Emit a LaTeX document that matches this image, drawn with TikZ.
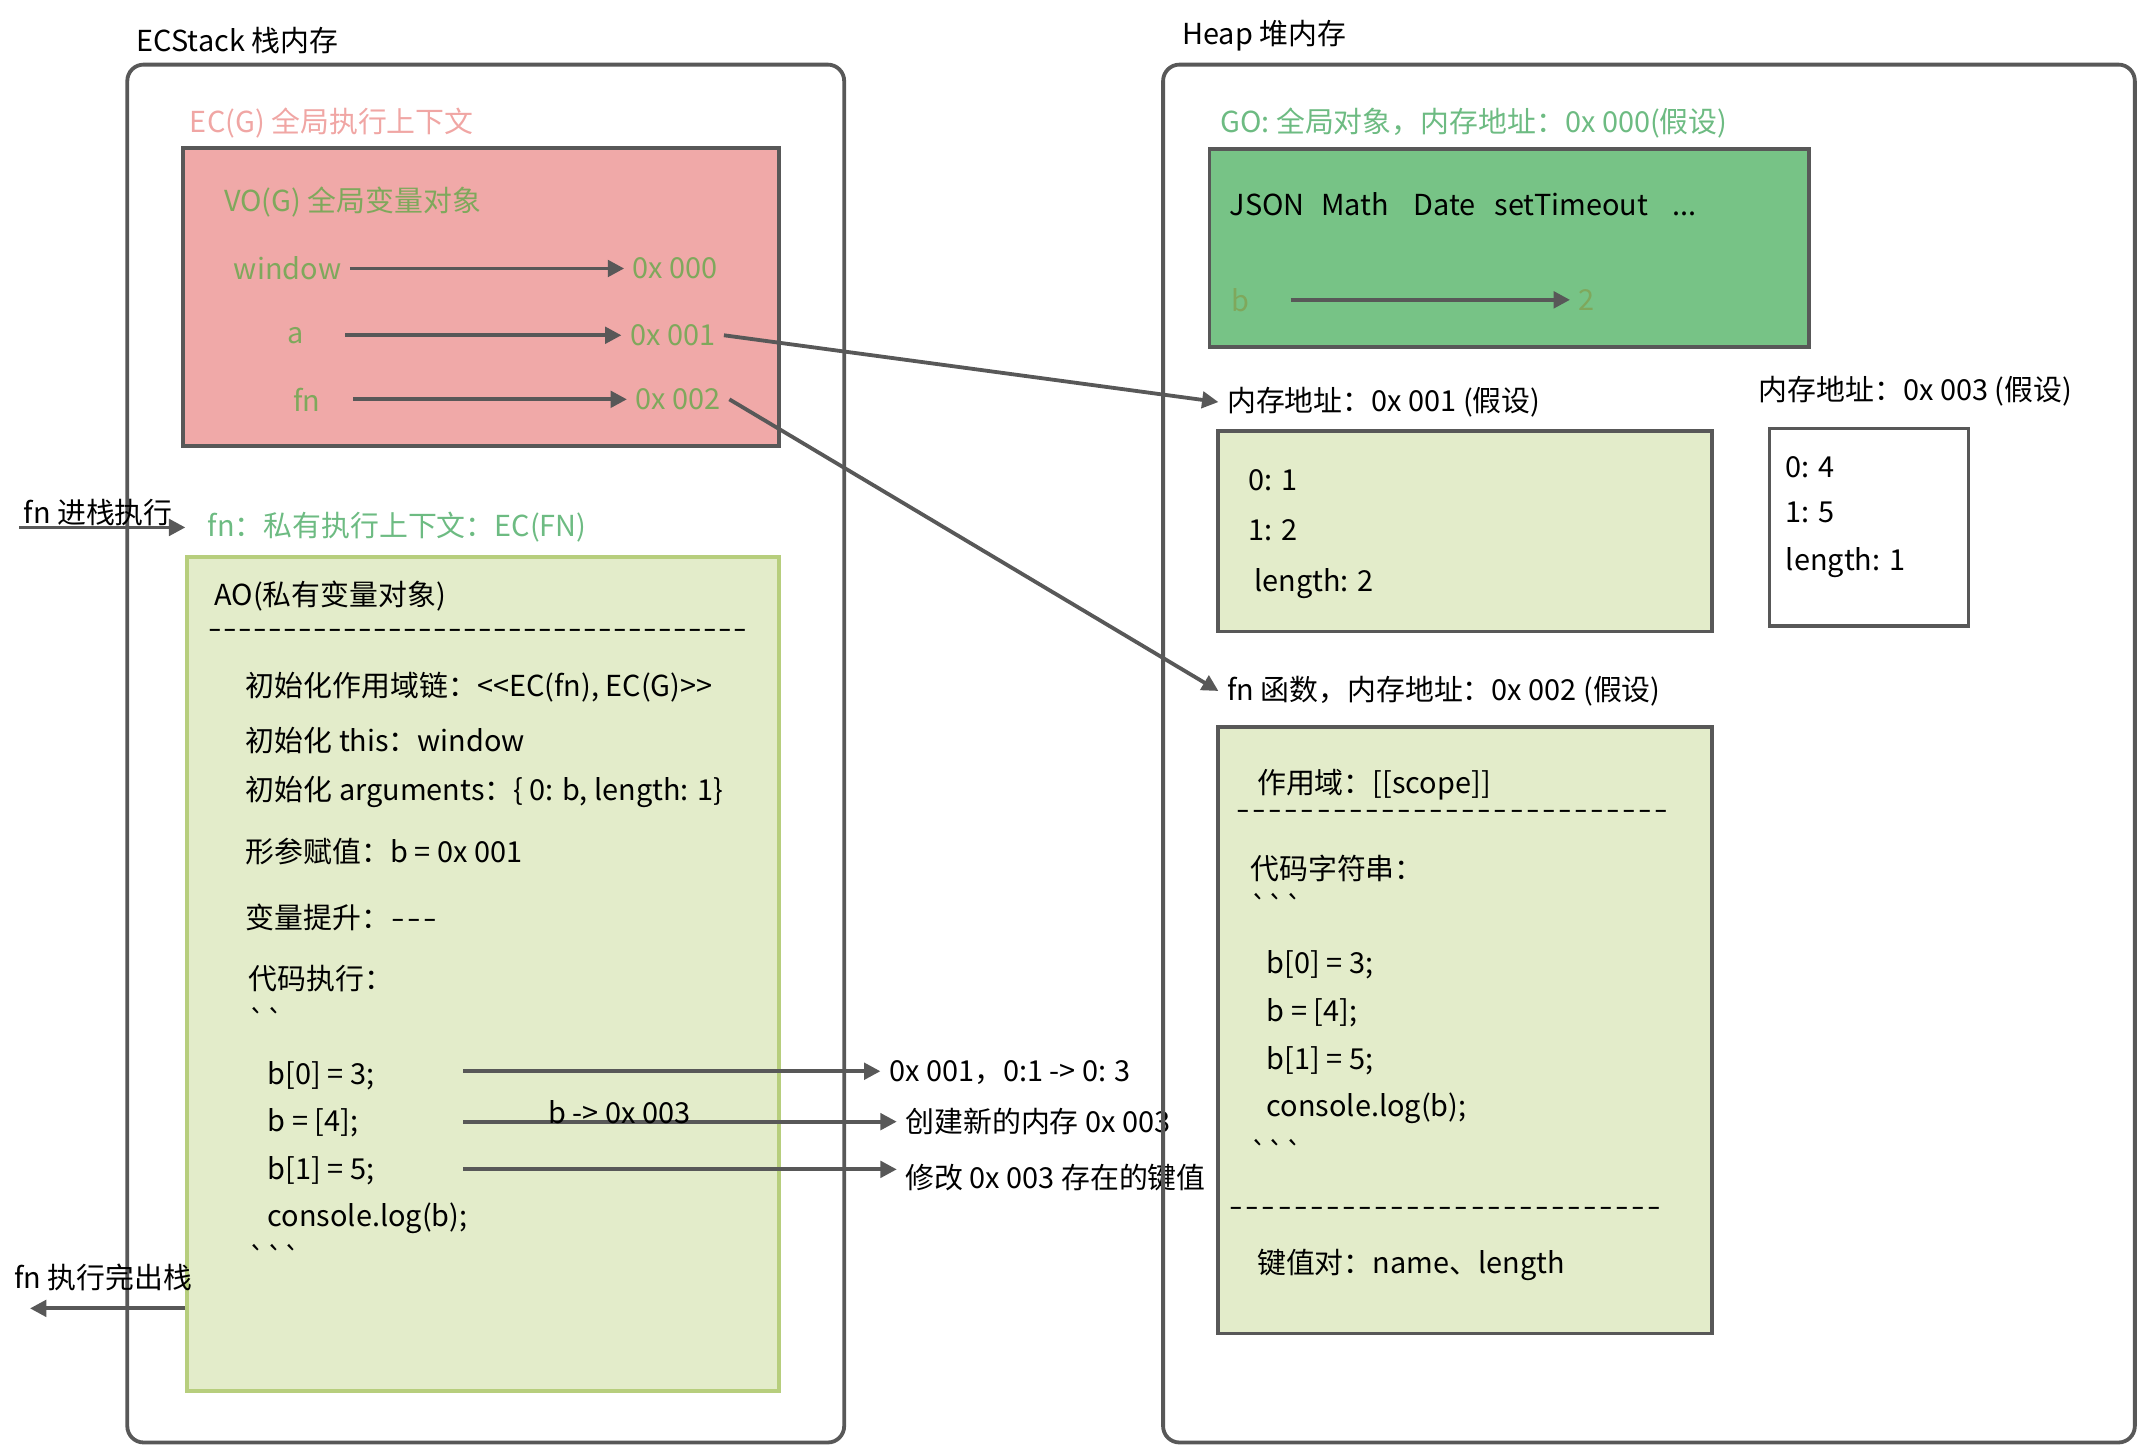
\documentclass[tikz,border=0pt]{standalone}
\usepackage{fontspec}
\newfontfamily\cjk{Noto Sans CJK SC}
\usetikzlibrary{arrows.meta}
\definecolor{linegray}{HTML}{585858}
\definecolor{pinkfill}{HTML}{F0A9A8}
\definecolor{pinktext}{HTML}{F0A6A4}
\definecolor{olivetext}{HTML}{7FA85C}
\definecolor{minttext}{HTML}{6DBB82}
\definecolor{gofill}{HTML}{77C386}
\definecolor{aofill}{HTML}{E3ECCA}
\definecolor{aoline}{HTML}{B7CE7D}
\newcommand\dashes[2]{\foreach \k in {1,...,#1}{\makebox[#2]{\scalebox{1.35}[1]{-}}}}
\tikzset{
  ctxt/.style={font=\cjk\fontsize{10.6}{13}\selectfont, inner ysep=1.5pt, inner xsep=3pt},
  txt/.style={ctxt, anchor=west, xshift=-3pt},
  dashrow/.style={txt, inner ysep=0pt},
  memframe/.style={draw=linegray, line width=1.4pt, rounded corners=6pt, anchor=north west},
  block/.style={draw=linegray, line width=1.4pt, anchor=north west},
  arr/.style={-{Triangle[length=6pt,width=6pt]}, draw=linegray, line width=1.4pt},
}
\begin{document}
\begin{tikzpicture}[x=0.5pt, y=-0.5pt]
\useasboundingbox (0,0) rectangle (1568,1060);

% ECStack
\node[txt] (stacktitle) at (100,30) {ECStack 栈内存};
\node[memframe, minimum width=263pt, minimum height=505.5pt] (stack) at (92,46) {};
\node[txt, text=pinktext] (ecg) at (139,90) {EC(G) 全局执行上下文};
\node[block, fill=pinkfill, minimum width=218.5pt, minimum height=109.5pt] (vo) at (133,107) {};
\node[txt, text=olivetext] (votitle) at (164,148) {VO(G) 全局变量对象};
\node[ctxt, text=olivetext] (vWin) at (211,197) {window};
\node[ctxt, text=olivetext] (vA) at (217,246) {a};
\node[ctxt, text=olivetext] (vFn) at (225,293) {fn};
\node[txt, text=olivetext] (adW) at (464,197) {0x 000};
\node[txt, text=olivetext] (adA) at (462,246) {0x 001};
\node[txt, text=olivetext] (adF) at (466,293) {0x 002};
\draw[arr] (vWin.east) -- (adW.west);
\draw[arr, shorten <=12pt] (vA.east) -- (adA.west);
\draw[arr, shorten <=9pt] (vFn.east) -- (adF.west);

% fn context
\node[txt] (push) at (17,376) {fn 进栈执行};
\node[txt, text=minttext] (fnctx) at (152,387) {fn：私有执行上下文：EC(FN)};
\coordinate (pushStart) at (14,387);
\draw[arr, shorten >=5pt] (pushStart) -- (pushStart -| fnctx.west);
\node[block, draw=aoline, fill=aofill, minimum width=217pt, minimum height=306pt] (ao) at (136,407) {};
\node[txt] (aotitle) at (157,437) {AO(私有变量对象)};
\node[dashrow] (aodash) at (152,465) {\dashes{36}{5.5pt}};
\node[txt] (scopechain) at (180,504) {初始化作用域链：<<EC(fn), EC(G)>>};
\node[txt] (initthis) at (180,543) {初始化 this：window};
\node[txt] (initargs) at (180,581) {初始化 arguments：\{ 0: b, length: 1\}};
\node[txt] (param) at (180,625) {形参赋值：b = 0x 001};
\node[txt] (hoist) at (180,673) {变量提升：\dashes{3}{5.8pt}};
\node[txt] (run) at (182,718) {代码执行：};
\node[txt] (tickA) at (182,748) {``};
\node[txt] (c1) at (196,789) {b[0] = 3;};
\node[txt] (c2) at (196,824) {b = [4];};
\node[txt] (c3) at (196,859) {b[1] = 5;};
\node[txt] (c4) at (196,894) {console.log(b);};
\node[txt] (tickB) at (182,922) {```};
\node[txt] (n1) at (652,787) {0x 001，0:1 -> 0: 3};
\node[txt] (n2) at (664,823) {创建新的内存 0x 003};
\node[txt] (n3) at (664,864) {修改 0x 003 存在的键值};
\coordinate (s1) at (340,786);
\coordinate (s2) at (340,823);
\coordinate (s3) at (340,858);
\draw[arr] (s1) -- (s1 -| n1.west);
\draw[arr] (s2) -- node[ctxt, pos=0.36, yshift=3.5pt] (rebind) {b -> 0x 003} (s2 -| n2.west);
\draw[arr] (s3) -- (s3 -| n3.west);
\node[txt] (pop) at (10,937) {fn 执行完出栈};
\coordinate (popEnd) at (22,960);
\draw[arr] (ao.west |- popEnd) -- (popEnd);

% Heap
\node[txt] (heaptitle) at (867,26) {Heap 堆内存};
\node[memframe, minimum width=356.5pt, minimum height=505.5pt] (heap) at (852,46) {};
\node[txt, text=minttext] (golabel) at (895,90) {GO: 全局对象，内存地址：0x 000(假设)};
\node[block, fill=gofill, minimum width=220pt, minimum height=72.5pt] (go) at (886,108) {};
\node[txt] (builtins) at (902,150) {JSON\hspace{6pt}Math\hspace{9pt}Date\hspace{7pt}setTimeout\hspace{9pt}...};
\node[ctxt, text=olivetext] (gb) at (910,220) {b};
\node[txt, text=olivetext] (g2) at (1158,220) {2};
\draw[arr, shorten <=12pt] (gb.east) -- (g2.west);

\node[txt] (addr1) at (900,295) {内存地址：0x 001 (假设)};
\node[block, fill=aofill, minimum width=181.5pt, minimum height=73.5pt] (arr1) at (892,315) {};
\node[txt] (a10) at (916,352) {0: 1};
\node[txt] (a11) at (916,389) {1: 2};
\node[txt] (a1len) at (920,428) {length: 2};

\node[txt] (addr3) at (1290,287) {内存地址：0x 003 (假设)};
\node[block, fill=white, minimum width=73pt, minimum height=72.5pt] (arr3) at (1297,313) {};
\node[txt] (a30) at (1310,343) {0: 4};
\node[txt] (a31) at (1310,376) {1: 5};
\node[txt] (a3len) at (1310,413) {length: 1};

\node[txt] (addr2) at (900,507) {fn 函数，内存地址：0x 002 (假设)};
\node[block, fill=aofill, minimum width=181.5pt, minimum height=222.5pt] (fnobj) at (892,532) {};
\node[txt] (scope) at (922,576) {作用域：[[scope]]};
\node[dashrow] (fndashA) at (906,598) {\dashes{27}{5.9pt}};
\node[txt] (codestr) at (917,637) {代码字符串：};
\node[txt] (tickC) at (917,665) {```};
\node[txt] (f1) at (929,708) {b[0] = 3;};
\node[txt] (f2) at (929,743) {b = [4];};
\node[txt] (f3) at (929,778) {b[1] = 5;};
\node[txt] (f4) at (929,813) {console.log(b);};
\node[txt] (tickD) at (917,845) {```};
\node[dashrow] (fndashB) at (901,889) {\dashes{27}{5.9pt}};
\node[txt] (keys) at (922,928) {键值对：name、length};

% pointers into the heap
\draw[arr] (adA.east) -- (addr1.west);
\draw[arr] (adF.east) -- (addr2.west);
\end{tikzpicture}
\end{document}
